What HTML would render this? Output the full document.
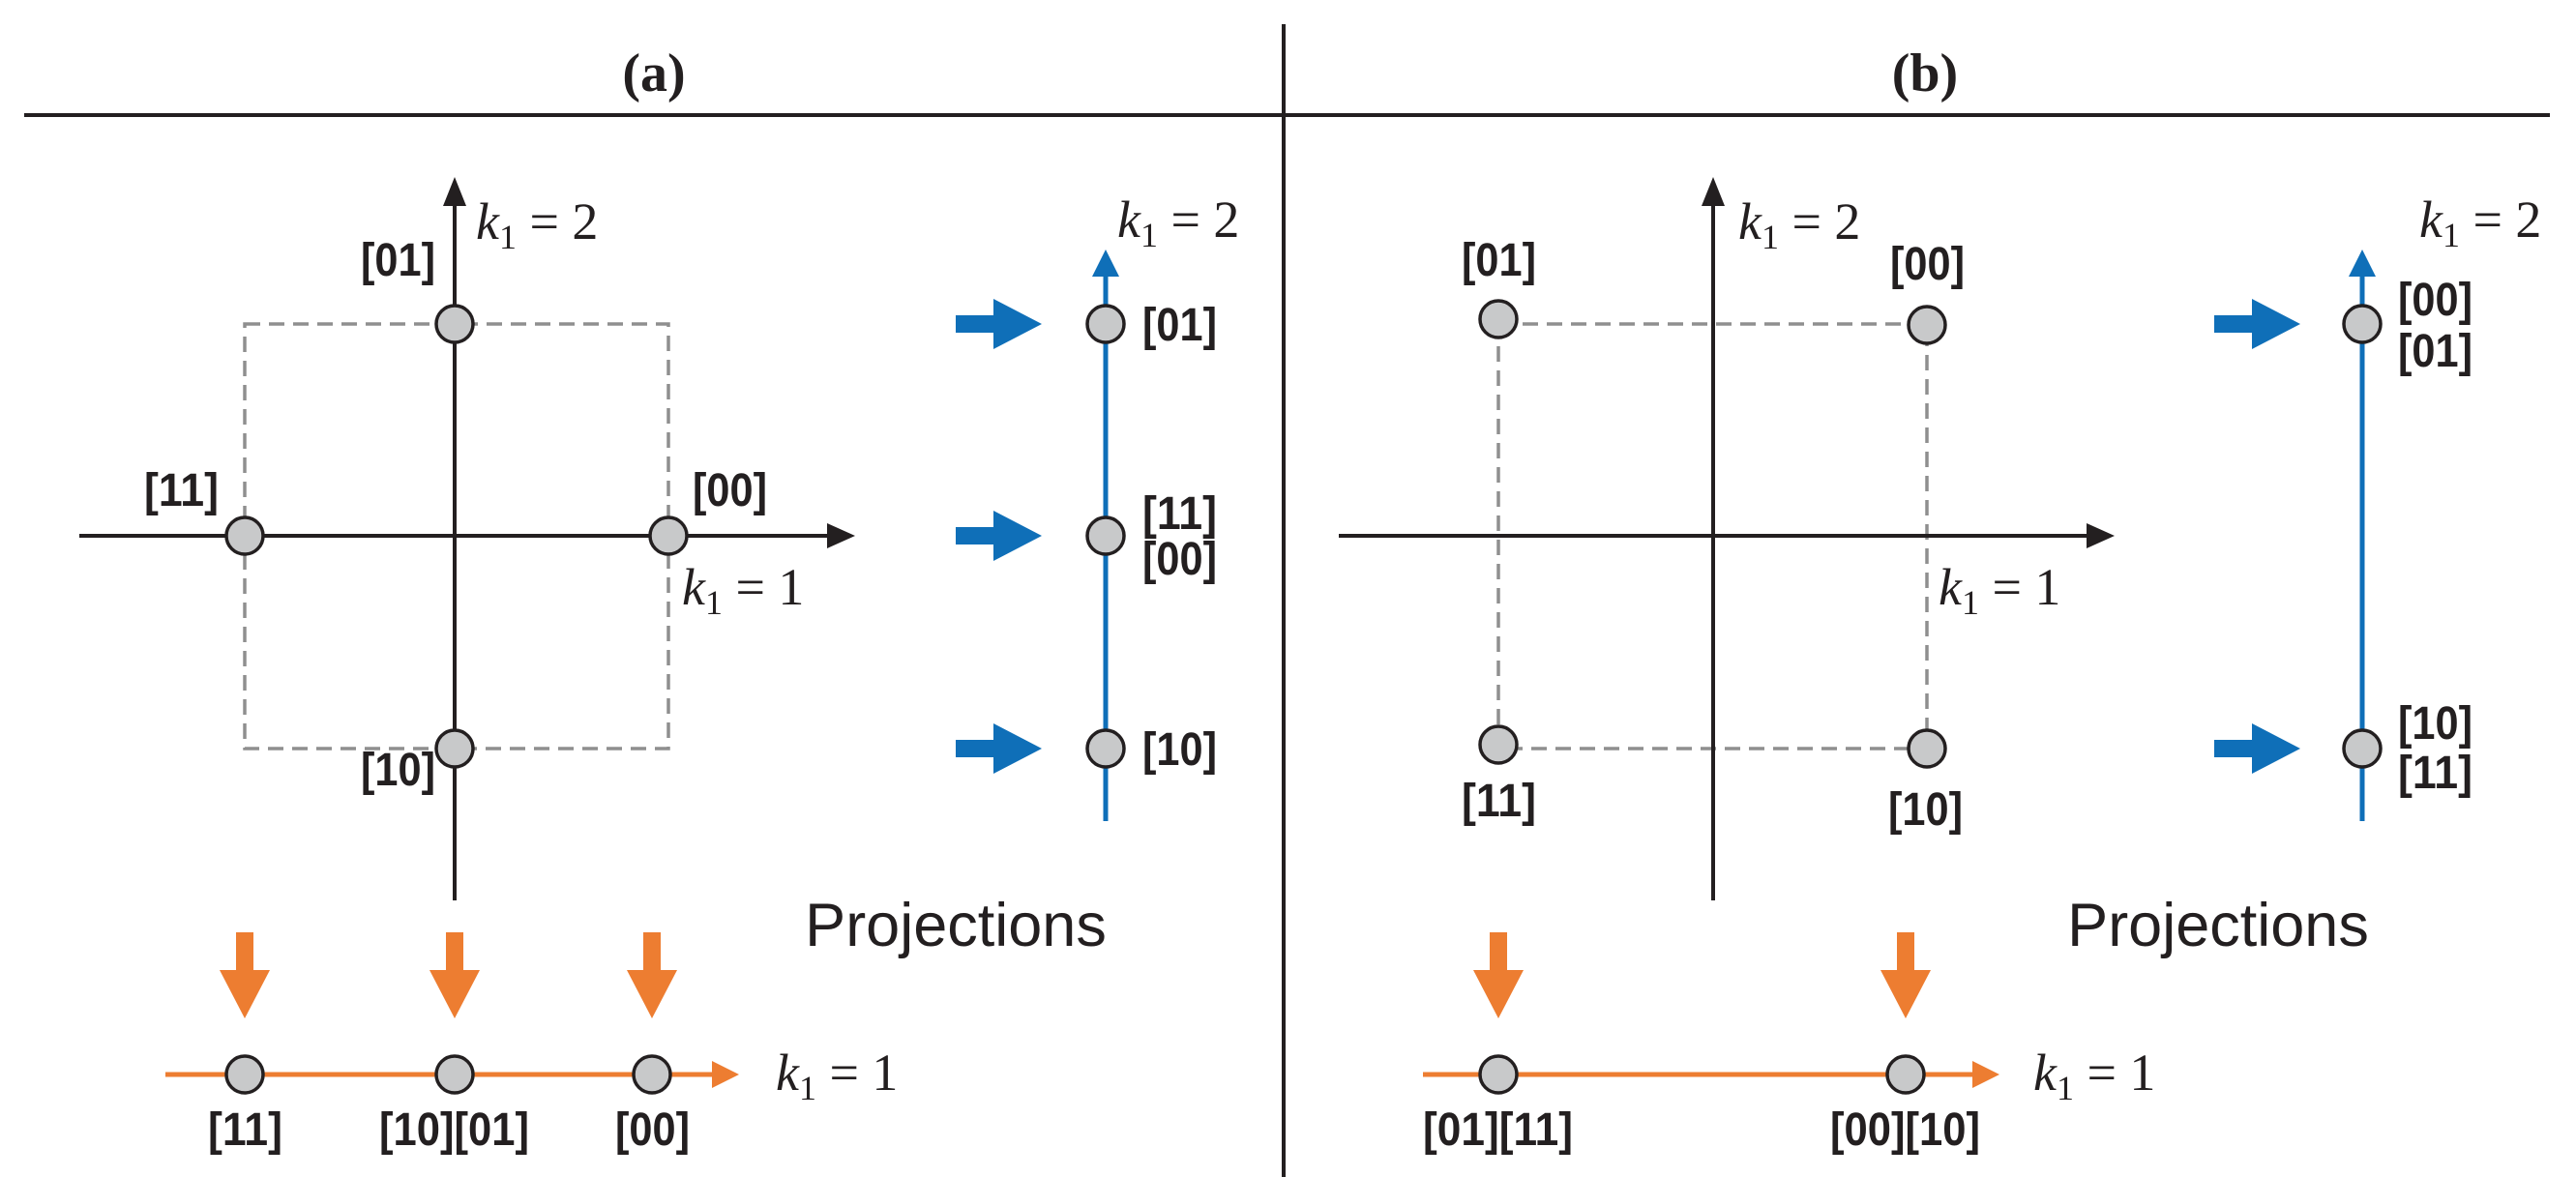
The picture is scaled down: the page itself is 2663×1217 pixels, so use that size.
<!DOCTYPE html>
<html><head><meta charset="utf-8"><style>
html,body{margin:0;padding:0;background:#fff;}
svg{display:block;}
.lb{font-family:"Liberation Sans",sans-serif;font-weight:bold;font-size:48px;fill:#231f20;}
.m{font-family:"Liberation Serif",serif;font-size:54px;fill:#231f20;}
.pr{font-family:"Liberation Sans",sans-serif;font-size:63px;fill:#231f20;}
.t{font-family:"Liberation Serif",serif;font-weight:bold;font-size:56px;fill:#231f20;}
</style></head><body>
<svg width="2663" height="1217" viewBox="0 0 2663 1217" xmlns="http://www.w3.org/2000/svg">
<defs>
<g id="c"><circle r="19" fill="#c8c9ca" stroke="#231f20" stroke-width="3.5"/></g>
<g id="ba"><rect x="0" y="-9" width="40" height="18" fill="#0f6fb8"/><polygon points="39,-26 89,0 39,26" fill="#0f6fb8"/></g>
<g id="oa"><rect x="-9" y="0" width="18" height="40" fill="#ed7d31"/><polygon points="-26,39 26,39 0,89" fill="#ed7d31"/></g>
</defs>
<text class="t" x="676" y="94" text-anchor="middle">(a)</text>
<text class="t" x="1990" y="94" text-anchor="middle">(b)</text>
<line x1="25" y1="119" x2="2636" y2="119" stroke="#231f20" stroke-width="4"/>
<line x1="1327" y1="25" x2="1327" y2="1217" stroke="#231f20" stroke-width="4"/>

<!-- (a) -->
<rect x="253" y="335" width="438" height="439" fill="none" stroke="#8f8f8f" stroke-width="3.5" stroke-dasharray="16 9"/>
<line x1="470" y1="200" x2="470" y2="931" stroke="#231f20" stroke-width="4"/>
<polygon points="470,183 458,213 482,213" fill="#231f20"/>
<line x1="82" y1="554" x2="860" y2="554" stroke="#231f20" stroke-width="4"/>
<polygon points="884,554 855,541 855,567" fill="#231f20"/>
<use href="#c" x="470" y="335"/><use href="#c" x="253" y="554"/><use href="#c" x="691" y="554"/><use href="#c" x="470" y="774"/>
<text class="lb" x="373" y="285" textLength="77" lengthAdjust="spacingAndGlyphs">[01]</text>
<text class="lb" x="149" y="523" textLength="77" lengthAdjust="spacingAndGlyphs">[11]</text>
<text class="lb" x="716" y="523" textLength="77" lengthAdjust="spacingAndGlyphs">[00]</text>
<text class="lb" x="373" y="812" textLength="77" lengthAdjust="spacingAndGlyphs">[10]</text>
<text class="m" x="492" y="247"><tspan font-style="italic">k</tspan><tspan font-size="36" dy="10">1</tspan><tspan dy="-10"> = 2</tspan></text>
<text class="m" x="705" y="625"><tspan font-style="italic">k</tspan><tspan font-size="36" dy="10">1</tspan><tspan dy="-10"> = 1</tspan></text>
<!-- blue -->
<line x1="1143" y1="280" x2="1143" y2="849" stroke="#0f6fb8" stroke-width="5"/>
<polygon points="1143,258 1129,286 1157,286" fill="#0f6fb8"/>
<use href="#ba" x="988" y="335"/><use href="#ba" x="988" y="554"/><use href="#ba" x="988" y="774"/>
<use href="#c" x="1143" y="335"/><use href="#c" x="1143" y="554"/><use href="#c" x="1143" y="774"/>
<text class="lb" x="1181" y="352" textLength="77" lengthAdjust="spacingAndGlyphs">[01]</text>
<text class="lb" x="1181" y="547" textLength="77" lengthAdjust="spacingAndGlyphs">[11]</text>
<text class="lb" x="1181" y="594" textLength="77" lengthAdjust="spacingAndGlyphs">[00]</text>
<text class="lb" x="1181" y="791" textLength="77" lengthAdjust="spacingAndGlyphs">[10]</text>
<text class="m" x="1155" y="245"><tspan font-style="italic">k</tspan><tspan font-size="36" dy="10">1</tspan><tspan dy="-10"> = 2</tspan></text>
<text class="pr" x="988" y="978" text-anchor="middle">Projections</text>
<!-- orange -->
<use href="#oa" x="253" y="964"/><use href="#oa" x="470" y="964"/><use href="#oa" x="674" y="964"/>
<line x1="171" y1="1111" x2="740" y2="1111" stroke="#ed7d31" stroke-width="5"/>
<polygon points="764,1111 736,1097 736,1125" fill="#ed7d31"/>
<use href="#c" x="253" y="1111"/><use href="#c" x="470" y="1111"/><use href="#c" x="674" y="1111"/>
<text class="lb" x="215" y="1184" textLength="77" lengthAdjust="spacingAndGlyphs">[11]</text>
<text class="lb" x="392" y="1184" textLength="155" lengthAdjust="spacingAndGlyphs">[10][01]</text>
<text class="lb" x="636" y="1184" textLength="77" lengthAdjust="spacingAndGlyphs">[00]</text>
<text class="m" x="802" y="1127"><tspan font-style="italic">k</tspan><tspan font-size="36" dy="10">1</tspan><tspan dy="-10"> = 1</tspan></text>

<!-- (b) -->
<rect x="1549" y="335" width="443" height="439" fill="none" stroke="#8f8f8f" stroke-width="3.5" stroke-dasharray="16 9"/>
<line x1="1771" y1="200" x2="1771" y2="931" stroke="#231f20" stroke-width="4"/>
<polygon points="1771,183 1759,213 1783,213" fill="#231f20"/>
<line x1="1384" y1="554" x2="2162" y2="554" stroke="#231f20" stroke-width="4"/>
<polygon points="2186,554 2157,541 2157,567" fill="#231f20"/>
<use href="#c" x="1549" y="330"/><use href="#c" x="1992" y="336"/><use href="#c" x="1549" y="770"/><use href="#c" x="1992" y="774"/>
<text class="lb" x="1511" y="285" textLength="77" lengthAdjust="spacingAndGlyphs">[01]</text>
<text class="lb" x="1954" y="289" textLength="77" lengthAdjust="spacingAndGlyphs">[00]</text>
<text class="lb" x="1511" y="844" textLength="77" lengthAdjust="spacingAndGlyphs">[11]</text>
<text class="lb" x="1952" y="853" textLength="77" lengthAdjust="spacingAndGlyphs">[10]</text>
<text class="m" x="1797" y="247"><tspan font-style="italic">k</tspan><tspan font-size="36" dy="10">1</tspan><tspan dy="-10"> = 2</tspan></text>
<text class="m" x="2004" y="625"><tspan font-style="italic">k</tspan><tspan font-size="36" dy="10">1</tspan><tspan dy="-10"> = 1</tspan></text>
<line x1="2442" y1="280" x2="2442" y2="849" stroke="#0f6fb8" stroke-width="5"/>
<polygon points="2442,258 2428,286 2456,286" fill="#0f6fb8"/>
<use href="#ba" x="2289" y="335"/><use href="#ba" x="2289" y="774"/>
<use href="#c" x="2442" y="335"/><use href="#c" x="2442" y="774"/>
<text class="lb" x="2479" y="326" textLength="77" lengthAdjust="spacingAndGlyphs">[00]</text>
<text class="lb" x="2479" y="379" textLength="77" lengthAdjust="spacingAndGlyphs">[01]</text>
<text class="lb" x="2479" y="764" textLength="77" lengthAdjust="spacingAndGlyphs">[10]</text>
<text class="lb" x="2479" y="815" textLength="77" lengthAdjust="spacingAndGlyphs">[11]</text>
<text class="m" x="2501" y="245"><tspan font-style="italic">k</tspan><tspan font-size="36" dy="10">1</tspan><tspan dy="-10"> = 2</tspan></text>
<text class="pr" x="2293" y="978" text-anchor="middle">Projections</text>
<use href="#oa" x="1549" y="964"/><use href="#oa" x="1970" y="964"/>
<line x1="1471" y1="1111" x2="2043" y2="1111" stroke="#ed7d31" stroke-width="5"/>
<polygon points="2067,1111 2039,1097 2039,1125" fill="#ed7d31"/>
<use href="#c" x="1549" y="1111"/><use href="#c" x="1970" y="1111"/>
<text class="lb" x="1471" y="1184" textLength="155" lengthAdjust="spacingAndGlyphs">[01][11]</text>
<text class="lb" x="1892" y="1184" textLength="155" lengthAdjust="spacingAndGlyphs">[00][10]</text>
<text class="m" x="2102" y="1127"><tspan font-style="italic">k</tspan><tspan font-size="36" dy="10">1</tspan><tspan dy="-10"> = 1</tspan></text>
</svg>
</body></html>
